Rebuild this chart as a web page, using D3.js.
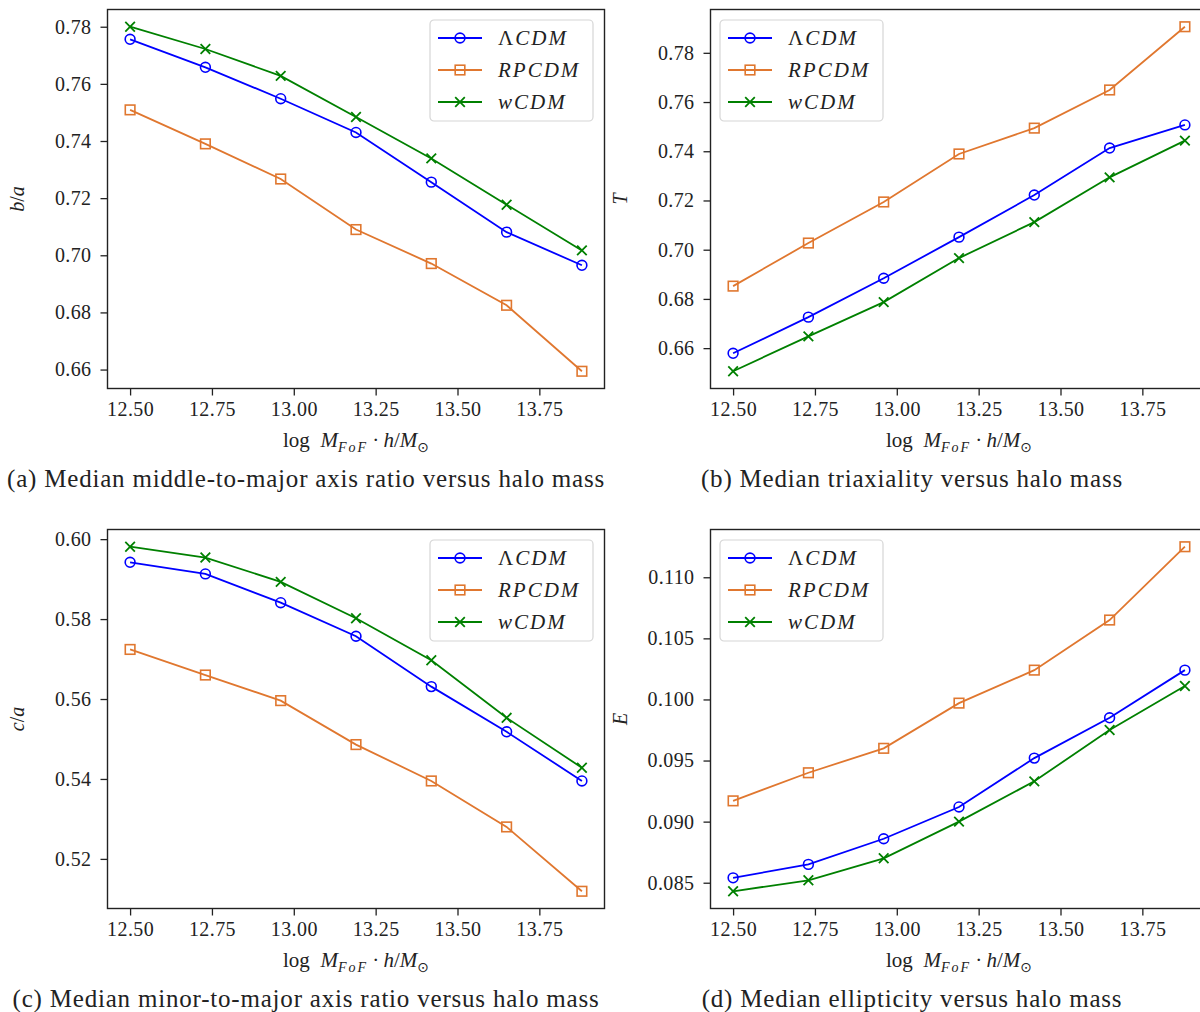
<!DOCTYPE html>
<html>
<head>
<meta charset="utf-8">
<script src="https://cdn.jsdelivr.net/npm/d3@7"></script>
<style>
  html, body { margin: 0; padding: 0; background: #fff; }
  svg { display: block; }
  text { font-family: "Liberation Serif", "DejaVu Serif", serif; fill: #222; }
</style>
</head>
<body>
<svg id="chart" width="1200" height="1012"></svg>
<script>
// ---------------- data ----------------
const xValues = [12.50, 12.73, 12.96, 13.19, 13.42, 13.65, 13.88];
const xTicks = [12.50, 12.75, 13.00, 13.25, 13.50, 13.75];
const seriesNames = ["LCDM", "RPCDM", "wCDM"];

const baLCDM  = [0.7756, 0.7658, 0.7548, 0.7430, 0.7256, 0.7081, 0.6965];
const baRPCDM = [0.7509, 0.7390, 0.7267, 0.7090, 0.6971, 0.6825, 0.6594];
const baWCDM  = [0.7800, 0.7722, 0.7628, 0.7484, 0.7339, 0.7177, 0.7017];
const baTicks = [0.66, 0.68, 0.70, 0.72, 0.74, 0.76, 0.78];

const tLCDM  = [0.6579, 0.6726, 0.6884, 0.7051, 0.7222, 0.7413, 0.7507];
const tRPCDM = [0.6852, 0.7027, 0.7194, 0.7389, 0.7494, 0.7649, 0.7906];
const tWCDM  = [0.6506, 0.6648, 0.6787, 0.6966, 0.7112, 0.7294, 0.7443];
const tTicks = [0.66, 0.68, 0.70, 0.72, 0.74, 0.76, 0.78];

const caLCDM  = [0.5942, 0.5913, 0.5841, 0.5757, 0.5631, 0.5518, 0.5395];
const caRPCDM = [0.5724, 0.5660, 0.5596, 0.5486, 0.5395, 0.5280, 0.5119];
const caWCDM  = [0.5981, 0.5954, 0.5893, 0.5802, 0.5697, 0.5553, 0.5428];
const caTicks = [0.52, 0.54, 0.56, 0.58, 0.60];

const eLCDM  = [0.0854, 0.0865, 0.0886, 0.0912, 0.0952, 0.0985, 0.1024];
const eRPCDM = [0.0917, 0.0940, 0.0960, 0.0997, 0.1024, 0.1065, 0.1125];
const eWCDM  = [0.0843, 0.0852, 0.0870, 0.0900, 0.0933, 0.0975, 0.1011];
const eTicks = [0.085, 0.090, 0.095, 0.100, 0.105, 0.110];

const captions = [
  "(a) Median middle-to-major axis ratio versus halo mass",
  "(b) Median triaxiality versus halo mass",
  "(c) Median minor-to-major axis ratio versus halo mass",
  "(d) Median ellipticity versus halo mass"
];

// ---------------- styles / layout ----------------
const colors = { LCDM: "#0000ff", RPCDM: "#e0772f", wCDM: "#008000" };
const markers = { LCDM: "circle", RPCDM: "square", wCDM: "x" };

const panels = [
  { series: [baLCDM, baRPCDM, baWCDM], ticks: baTicks, fmt: ".2f", ylab: ["b", "/", "a"], cap: captions[0],
    left: 107.5, top: 9.5, legend: "right", capX: 306, capY: 487 },
  { series: [tLCDM, tRPCDM, tWCDM], ticks: tTicks, fmt: ".2f", ylab: ["T"], cap: captions[1],
    left: 710.5, top: 9.5, legend: "left", capX: 912, capY: 487 },
  { series: [caLCDM, caRPCDM, caWCDM], ticks: caTicks, fmt: ".2f", ylab: ["c", "/", "a"], cap: captions[2],
    left: 107.5, top: 529.5, legend: "right", capX: 306, capY: 1007 },
  { series: [eLCDM, eRPCDM, eWCDM], ticks: eTicks, fmt: ".3f", ylab: ["E"], cap: captions[3],
    left: 710.5, top: 529.5, legend: "left", capX: 912, capY: 1007 }
];
const W = 497, H = 379;

const svg = d3.select("#chart");

function withMargin(lo, hi) {
  const m = (hi - lo) * 0.05;
  return [lo - m, hi + m];
}

function drawMarker(g, type, color, x, y) {
  if (type === "circle") {
    g.append("circle").attr("cx", x).attr("cy", y).attr("r", 4.9)
      .attr("fill", "none").attr("stroke", color).attr("stroke-width", 1.6);
  } else if (type === "square") {
    g.append("rect").attr("x", x - 4.8).attr("y", y - 4.8).attr("width", 9.6).attr("height", 9.6)
      .attr("fill", "none").attr("stroke", color).attr("stroke-width", 1.6);
  } else {
    const s = 4.8;
    g.append("path").attr("d", `M${x - s},${y - s}L${x + s},${y + s}M${x - s},${y + s}L${x + s},${y - s}`)
      .attr("stroke", color).attr("stroke-width", 1.8).attr("fill", "none");
  }
}

const xExt = d3.extent(xValues);

panels.forEach(p => {
  const g = svg.append("g").attr("transform", `translate(${p.left},${p.top})`);
  const all = p.series.flat();
  const x = d3.scaleLinear().domain(withMargin(xExt[0], xExt[1])).range([0, W]);
  const y = d3.scaleLinear().domain(withMargin(d3.min(all), d3.max(all))).range([H, 0]);

  // series
  p.series.forEach((vals, i) => {
    const name = seriesNames[i];
    const pts = xValues.map((xv, j) => [xv, vals[j]]);
    g.append("path").datum(pts)
      .attr("d", d3.line().x(d => x(d[0])).y(d => y(d[1])))
      .attr("fill", "none").attr("stroke", colors[name]).attr("stroke-width", 1.8);
    const mg = g.append("g");
    pts.forEach(d => drawMarker(mg, markers[name], colors[name], x(d[0]), y(d[1])));
  });

  // axes
  const xa = g.append("g").attr("transform", `translate(0,${H})`)
    .call(d3.axisBottom(x).tickValues(xTicks).tickFormat(d3.format(".2f")).tickSize(7).tickPadding(6));
  const ya = g.append("g")
    .call(d3.axisLeft(y).tickValues(p.ticks).tickFormat(d3.format(p.fmt)).tickSize(7).tickPadding(9));
  [xa, ya].forEach(a => {
    a.select(".domain").remove();
    a.selectAll(".tick line").attr("stroke", "#222").attr("stroke-width", 1.3);
    a.selectAll(".tick text").style("font-size", "20px").style("letter-spacing", "0.4px")
      .style("font-family", "'Liberation Serif', serif").attr("fill", "#222");
  });

  // frame
  g.append("rect").attr("x", 0).attr("y", 0).attr("width", W).attr("height", H)
    .attr("fill", "none").attr("stroke", "#222").attr("stroke-width", 1.4);

  // legend
  const lw = 163, lh = 101;
  const lx = p.legend === "right" ? W - 11.5 - lw : 9.5;
  const ly = 10.5;
  const lg = g.append("g").attr("transform", `translate(${lx},${ly})`);
  lg.append("rect").attr("width", lw).attr("height", lh).attr("rx", 4).attr("ry", 4)
    .attr("fill", "rgba(255,255,255,0.8)").attr("stroke", "#d6d6d6").attr("stroke-width", 1.2);
  seriesNames.forEach((name, i) => {
    const cy = 18 + i * 32;
    lg.append("line").attr("x1", 8).attr("x2", 52).attr("y1", cy).attr("y2", cy)
      .attr("stroke", colors[name]).attr("stroke-width", 1.8);
    drawMarker(lg, markers[name], colors[name], 30, cy);
    const t = lg.append("text").attr("x", 68).attr("y", cy + 7).style("font-size", "21px").style("letter-spacing", "2px");
    if (name === "LCDM") {
      t.append("tspan").text("Λ");
      t.append("tspan").style("font-style", "italic").text("CDM");
    } else {
      t.append("tspan").style("font-style", "italic").text(name);
    }
  });

  // x label
  const xl = g.append("text").attr("x", W / 2).attr("y", H + 58).attr("text-anchor", "middle").style("font-size", "21px");
  xl.append("tspan").text("log\u2002");
  xl.append("tspan").style("font-style", "italic").text("M");
  xl.append("tspan").style("font-style", "italic").style("font-size", "14px").style("letter-spacing", "2px").attr("dy", 5).text("FoF");
  xl.append("tspan").attr("dy", -5).text("\u2009·\u2009");
  xl.append("tspan").style("font-style", "italic").text("h");
  xl.append("tspan").text("/");
  xl.append("tspan").style("font-style", "italic").text("M");
  xl.append("tspan").style("font-size", "14px").style("font-family", "'DejaVu Sans', sans-serif").attr("dy", 5).text("⊙");

  // y label
  const ylt = g.append("text").attr("transform", `translate(${-84},${H / 2}) rotate(-90)`)
    .attr("text-anchor", "middle").style("font-size", "20px");
  p.ylab.forEach(s => {
    const ts = ylt.append("tspan").text(s);
    if (s !== "/") ts.style("font-style", "italic");
  });

  // caption
  svg.append("text").attr("x", p.capX).attr("y", p.capY).attr("text-anchor", "middle")
    .style("font-size", "25px").style("letter-spacing", "0.8px").text(p.cap);
});
</script>
</body>
</html>
